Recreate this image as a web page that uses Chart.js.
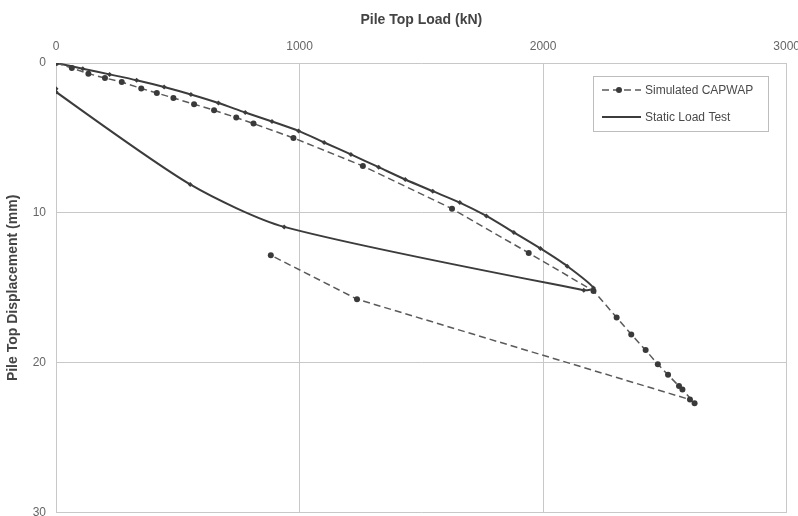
<!DOCTYPE html>
<html>
<head>
<meta charset="utf-8">
<script src="https://cdn.jsdelivr.net/npm/chart.js@4/dist/chart.umd.min.js"></script>
<style>
  html, body { margin: 0; padding: 0; background: #fff; overflow: hidden; }
  #wrap { width: 809px; height: 530px; }
</style>
</head>
<body>
<div id="wrap"><canvas id="chartCanvas" width="809" height="530"></canvas></div>
<script>
// Simulated CAPWAP (load kN, displacement mm) - loading then unloading
const capwapLoad = [0, 65, 133, 201, 270, 350, 414, 482, 567, 649, 740, 811, 975, 1260, 1626, 1941, 2207,
    2302, 2362, 2421, 2471, 2513, 2558, 2572, 2622, 2603, 1236, 882];
const capwapDisp = [0, 0.33, 0.71, 1.0, 1.27, 1.7, 2.0, 2.33, 2.75, 3.15, 3.64, 4.04, 5.0, 6.87, 9.72, 12.67, 15.2,
    16.97, 18.1, 19.15, 20.09, 20.8, 21.55, 21.77, 22.7, 22.45, 15.75, 12.82];

// Static load test
const staticLoad = [0, 110, 220, 331, 444, 554, 667, 777, 887, 996, 1101, 1211, 1325, 1434, 1547, 1658, 1767,
    1880, 1989, 2099, 2207, 2167, 937, 551, 0, 0];
const staticDisp = [0, 0.38, 0.76, 1.15, 1.6, 2.1, 2.67, 3.3, 3.9, 4.53, 5.3, 6.1, 6.95, 7.77, 8.55, 9.31, 10.2,
    11.3, 12.37, 13.55, 15.0, 15.15, 10.93, 8.1, 1.93, 1.72];

const loadTicks = [0, 1000, 2000, 3000];
const dispTicks = [0, 10, 20, 30];

const toPoints = (xs, ys) => xs.map((x, i) => ({ x: x, y: ys[i] }));

// legend drawn inside the plot, top right
const boxLegend = {
    id: 'boxLegend',
    afterDraw(chart) {
        const ctx = chart.ctx;
        const x0 = 593, y0 = 76, w = 175, h = 55;
        ctx.save();
        ctx.fillStyle = '#fff';
        ctx.fillRect(x0, y0, w, h);
        ctx.strokeStyle = '#bdbdbd';
        ctx.lineWidth = 1;
        ctx.strokeRect(x0 + 0.5, y0 + 0.5, w, h);
        ctx.font = '12px "Liberation Sans", Arial, sans-serif';
        ctx.textBaseline = 'middle';
        chart.data.datasets.forEach((ds, i) => {
            const y = y0 + 14 + i * 27;
            ctx.strokeStyle = ds.borderColor;
            ctx.lineWidth = ds.borderWidth;
            ctx.setLineDash(ds.borderDash || []);
            ctx.beginPath();
            ctx.moveTo(602, y);
            ctx.lineTo(641, y);
            ctx.stroke();
            ctx.setLineDash([]);
            if (ds.pointRadius > 0 && ds.pointStyle === 'circle') {
                ctx.fillStyle = ds.pointBackgroundColor;
                ctx.beginPath();
                ctx.arc(619, y, 3, 0, Math.PI * 2);
                ctx.fill();
            }
            ctx.fillStyle = '#4a4a4a';
            ctx.fillText(ds.label, 645, y + 1);
        });
        ctx.restore();
    }
};

const ctx = document.getElementById('chartCanvas').getContext('2d');
const chart = new Chart(ctx, {
    type: 'scatter',
    data: {
        datasets: [{
            label: 'Simulated CAPWAP',
            data: toPoints(capwapLoad, capwapDisp),
            showLine: true,
            borderColor: '#5a5a5a',
            borderWidth: 1.5,
            borderDash: [7, 4],
            pointStyle: 'circle',
            pointRadius: 3,
            pointBackgroundColor: '#3a3a3a',
            pointBorderWidth: 0,
            tension: 0
        }, {
            label: 'Static Load Test',
            data: toPoints(staticLoad, staticDisp),
            showLine: true,
            borderColor: '#3c3c3c',
            borderWidth: 2,
            pointStyle: 'rectRot',
            pointRadius: 2.5,
            pointBackgroundColor: '#3c3c3c',
            pointBorderWidth: 0,
            tension: 0.25
        }]
    },
    options: {
        responsive: false,
        animation: false,
        layout: { padding: { left: 0, right: 0, top: 0, bottom: 16 } },
        plugins: { legend: { display: false }, tooltip: { enabled: false } },
        scales: {
            x: {
                type: 'linear',
                position: 'top',
                min: 0,
                max: 3000,
                afterBuildTicks: axis => { axis.ticks = loadTicks.map(v => ({ value: v })); },
                afterFit: axis => { axis.height = 63; },
                grid: { color: '#c8c8c8', drawTicks: false },
                border: { display: false },
                ticks: {
                    color: '#666', padding: 9,
                    callback: v => String(v),
                    font: { size: 12, family: '"Liberation Sans", Arial, sans-serif' }
                },
                title: {
                    display: true,
                    text: 'Pile Top Load (kN)',
                    color: '#444',
                    padding: { top: 12, bottom: 0 },
                    font: { size: 14, weight: 'bold', family: '"Liberation Sans", Arial, sans-serif' }
                }
            },
            y: {
                type: 'linear',
                reverse: true,
                min: 0,
                max: 30,
                afterBuildTicks: axis => { axis.ticks = dispTicks.map(v => ({ value: v })); },
                afterFit: axis => { axis.width = 56; },
                grid: { color: '#c8c8c8', drawTicks: false },
                border: { display: false },
                ticks: {
                    color: '#666', padding: 10,
                    callback: v => String(v),
                    font: { size: 12, family: '"Liberation Sans", Arial, sans-serif' }
                },
                title: {
                    display: true,
                    text: 'Pile Top Displacement (mm)',
                    color: '#444',
                    padding: { top: 5, bottom: 0 },
                    font: { size: 14, weight: 'bold', family: '"Liberation Sans", Arial, sans-serif' }
                }
            }
        }
    },
    plugins: [boxLegend]
});
</script>
</body>
</html>
